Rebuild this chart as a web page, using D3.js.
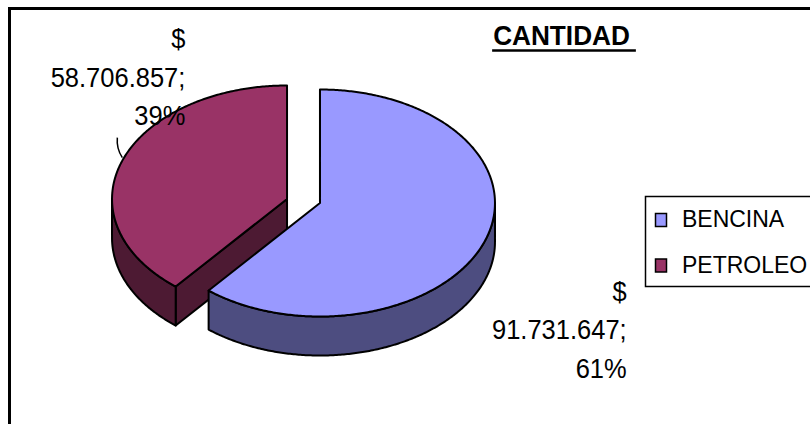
<!DOCTYPE html>
<html>
<head>
<meta charset="utf-8">
<script src="https://cdn.jsdelivr.net/npm/d3@7"></script>
<style>
  html, body { margin: 0; padding: 0; background: #fff; overflow: hidden; }
</style>
</head>
<body>
<svg id="chart" width="810" height="424"></svg>
<script>
// ---- data ----
const categories = ["BENCINA", "PETROLEO"];
const values = [91731647, 58706857];
const title = "CANTIDAD";
const topColors = ["#9999FF", "#993366"];
const sideColors = ["#4D4D80", "#4D1A33"];

// ---- setup ----
const W = 810, H = 424;
const svg = d3.select("#chart");
const font = "'Liberation Sans', Arial, Helvetica, sans-serif";
const textScaleY = 1.06;

function addText(parent, x, y, str, opts) {
  return parent.append("text")
    .attr("transform", `translate(${x},${y}) scale(1,${textScaleY})`)
    .attr("font-family", font)
    .attr("font-size", opts.size)
    .attr("font-weight", opts.weight || "normal")
    .attr("text-anchor", opts.anchor || "start")
    .attr("fill", "#000")
    .text(str);
}

// chart area frame
svg.append("rect")
  .attr("x", 9.5).attr("y", 8.5)
  .attr("width", W + 60).attr("height", H + 60)
  .attr("fill", "none").attr("stroke", "#000").attr("stroke-width", 3);

// ---- 3D pie geometry ----
const cx = 303.5, cy = 201;       // pie centre
const rx = 175, ry = 113.5;       // ellipse radii of the top face
const depth = 39;                 // thickness of the pie
const explode = 17.5, explodeSquash = 0.34;

const rows = categories.map((c, i) => ({ name: c, value: values[i], i }));
const total = d3.sum(values);
const arcs = d3.pie().sort(null).value(d => d.value)
  .startAngle(0).endAngle(2 * Math.PI)(rows);

arcs.forEach(a => {
  a.mid = (a.startAngle + a.endAngle) / 2;
  a.ox = cx + explode * Math.sin(a.mid);
  a.oy = cy - explode * Math.cos(a.mid) * explodeSquash;
});

// angle measured clockwise from 12 o'clock
function pt(a, ang, r, dz) {
  return [a.ox + r * rx * Math.sin(ang), a.oy - r * ry * Math.cos(ang) + (dz || 0)];
}
function sweep(a0, a1) {
  const n = Math.max(2, Math.ceil(Math.abs(a1 - a0) / 0.01));
  return d3.range(n + 1).map(k => a0 + (a1 - a0) * k / n);
}
const line = d3.line();
const edge = { stroke: "#000", "stroke-width": 2, "stroke-linejoin": "round" };

function drawPoly(g, points, fill) {
  const p = g.append("path").attr("d", line(points) + "Z").attr("fill", fill);
  Object.entries(edge).forEach(([k, v]) => p.attr(k, v));
}

const pieG = svg.append("g");
// back slices first
const order = arcs.slice().sort((p, q) => p.oy - q.oy);

order.forEach(a => {
  const g = pieG.append("g");
  const side = sideColors[a.data.i];
  const centreTop = [a.ox, a.oy], centreBot = [a.ox, a.oy + depth];

  // radial cut faces facing the viewer
  if (Math.sin(a.startAngle) < -1e-6) {
    drawPoly(g, [centreTop, pt(a, a.startAngle, 1), pt(a, a.startAngle, 1, depth), centreBot], side);
  }
  if (Math.sin(a.endAngle) > 1e-6) {
    drawPoly(g, [centreTop, pt(a, a.endAngle, 1), pt(a, a.endAngle, 1, depth), centreBot], side);
  }
  // outer rim on the front half
  const lo = Math.max(a.startAngle, Math.PI / 2), hi = Math.min(a.endAngle, 3 * Math.PI / 2);
  if (hi > lo) {
    const angs = sweep(lo, hi);
    const topPts = angs.map(t => pt(a, t, 1));
    const botPts = angs.slice().reverse().map(t => pt(a, t, 1, depth));
    drawPoly(g, topPts.concat(botPts), side);
  }
  // top face
  const face = [centreTop].concat(sweep(a.startAngle, a.endAngle).map(t => pt(a, t, 1)));
  drawPoly(g, face, topColors[a.data.i]);
});

// ---- data labels ----
const loc = d3.formatLocale({ decimal: ",", thousands: ".", grouping: [3], currency: ["$", ""] });
const fmtNum = loc.format(",d");
const labelLayout = [
  { dx: 142, dy: 59.5, leader: false },
  { dx: 63, dy: -112.5, leader: true }
];
const lineGap = 38.5;
const labelG = svg.append("g");

arcs.forEach(a => {
  const L = labelLayout[a.data.i];
  const [ax, ay] = pt(a, a.mid, 1);
  const pct = Math.round(a.data.value / total * 100) + "%";
  const lines = ["$", fmtNum(a.data.value) + ";", pct];
  lines.forEach((s, k) => addText(labelG, ax + L.dx, ay + L.dy + k * lineGap, s, { size: 25.5, anchor: "end" }));
  if (L.leader) {
    labelG.append("path")
      .attr("d", `M${ax},${ay - 3} Q${ax - 6},${ay - 12} ${ax - 5},${ay - 23}`)
      .attr("fill", "none").attr("stroke", "#000").attr("stroke-width", 1.5);
  }
});

// ---- title ----
const t = addText(svg, 561.5, 45, title, { size: 26.2, weight: "bold", anchor: "middle" });
const tb = t.node().getBBox();
svg.append("line")
  .attr("x1", 561.5 + tb.x - 1).attr("x2", 561.5 + tb.x + tb.width + 6)
  .attr("y1", 50.5).attr("y2", 50.5)
  .attr("stroke", "#000").attr("stroke-width", 2.5);

// ---- legend ----
const legend = svg.append("g");
legend.append("rect")
  .attr("x", 645.5).attr("y", 196.5).attr("width", 220).attr("height", 90)
  .attr("fill", "#fff").attr("stroke", "#000").attr("stroke-width", 1.5);
categories.forEach((c, i) => {
  legend.append("rect")
    .attr("x", 655.5).attr("y", 213.5 + i * 45.5).attr("width", 11).attr("height", 13)
    .attr("fill", topColors[i]).attr("stroke", "#000").attr("stroke-width", 1.5);
  addText(legend, 682, 227 + i * 45.5, c, { size: 23 });
});
</script>
</body>
</html>
